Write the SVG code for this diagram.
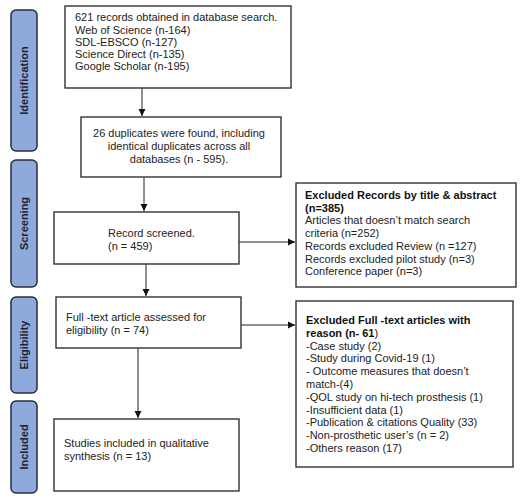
<svg xmlns="http://www.w3.org/2000/svg" width="523" height="501" viewBox="0 0 523 501">
<defs>
<marker id="ah" markerWidth="8" markerHeight="8" refX="7" refY="4" orient="auto" markerUnits="userSpaceOnUse">
<path d="M0,0.5 L7,4 L0,7.5 Z" fill="#111"/>
</marker>
<style>
.side{fill:#8eaadc;stroke:#2a2f3d;stroke-width:1.5}
.stxt{font-family:"Liberation Sans",Arial,sans-serif;font-size:11px;font-weight:bold;fill:#1e2230;text-anchor:middle}
.box{fill:#fff;stroke:#333;stroke-width:1.4}
.t{font-family:"Liberation Sans",Arial,sans-serif;font-size:11px;fill:#222}
.b{font-weight:bold;fill:#111}
.c{stroke:#222;stroke-width:1;fill:none;marker-end:url(#ah)}
</style>
</defs>
<rect width="523" height="501" fill="#fff"/>
<g id="stage-identification">
<rect class="side" x="11" y="10" width="26" height="141" rx="5"/>
<text class="stxt" transform="translate(28,80.5) rotate(-90)">Identification</text>
</g>
<g id="stage-screening">
<rect class="side" x="11" y="160" width="26" height="127" rx="5"/>
<text class="stxt" transform="translate(28,223.5) rotate(-90)">Screening</text>
</g>
<g id="stage-eligibility">
<rect class="side" x="11" y="297" width="26" height="96" rx="5"/>
<text class="stxt" transform="translate(28,345) rotate(-90)">Eligibility</text>
</g>
<g id="stage-included">
<rect class="side" x="11" y="401" width="26" height="92" rx="5"/>
<text class="stxt" transform="translate(28,447) rotate(-90)">Included</text>
</g>
<g id="connectors">
<line class="c" x1="142" y1="88" x2="142" y2="116"/>
<line class="c" x1="144" y1="177" x2="144" y2="211"/>
<line class="c" x1="146" y1="264" x2="146" y2="296"/>
<line class="c" x1="138" y1="348" x2="138" y2="418"/>
<line class="c" x1="239" y1="242" x2="295" y2="242"/>
<line class="c" x1="241" y1="325" x2="295" y2="325"/>
</g>
<g id="records">
<rect class="box" x="65" y="6" width="226" height="82"/>
<text class="t" x="75" y="21">621 records obtained in database search.</text>
<text class="t" x="75" y="34">Web of Science (n-164)</text>
<text class="t" x="75" y="46">SDL-EBSCO (n-127)</text>
<text class="t" x="75" y="58">Science Direct (n-135)</text>
<text class="t" x="75" y="70">Google Scholar (n-195)</text>
</g>
<g id="duplicates">
<rect class="box" x="81" y="117" width="200" height="60"/>
<text class="t" x="179" y="137" text-anchor="middle">26 duplicates were found, including</text>
<text class="t" x="179" y="150" text-anchor="middle">identical duplicates across all</text>
<text class="t" x="179" y="163" text-anchor="middle">databases (n - 595).</text>
</g>
<g id="screened">
<rect class="box" x="54" y="212" width="185" height="52"/>
<text class="t" x="108" y="237">Record screened.</text>
<text class="t" x="108" y="250">(n = 459)</text>
</g>
<g id="fulltext">
<rect class="box" x="56" y="297" width="185" height="51"/>
<text class="t" x="66" y="321">Full -text article assessed for</text>
<text class="t" x="66" y="334">eligibility (n = 74)</text>
</g>
<g id="included">
<rect class="box" x="54" y="419" width="185" height="72"/>
<text class="t" x="64" y="447">Studies included in qualitative</text>
<text class="t" x="64" y="460">synthesis (n = 13)</text>
</g>
<g id="excluded-records">
<rect class="box" x="296" y="183" width="220" height="104"/>
<text class="t b" x="305" y="199">Excluded Records by title &amp; abstract</text>
<text class="t b" x="305" y="211.7">(n=385)</text>
<text class="t" x="305" y="224.4">Articles that doesn’t match search</text>
<text class="t" x="305" y="237.1">criteria (n=252)</text>
<text class="t" x="305" y="249.8">Records excluded Review (n =127)</text>
<text class="t" x="305" y="262.5">Records excluded pilot study (n=3)</text>
<text class="t" x="305" y="275.2">Conference paper (n=3)</text>
</g>
<g id="excluded-fulltext">
<rect class="box" x="296" y="301" width="217" height="166"/>
<text class="t b" x="306" y="324">Excluded Full -text articles with</text>
<text class="t" x="306" y="336.8"><tspan class="b">reason (n- 61</tspan>)</text>
<text class="t" x="306" y="349.6">-Case study (2)</text>
<text class="t" x="306" y="362.4">-Study during Covid-19 (1)</text>
<text class="t" x="306" y="375.2">- Outcome measures that doesn’t</text>
<text class="t" x="306" y="388">match-(4)</text>
<text class="t" x="306" y="400.8">-QOL study on hi-tech prosthesis (1)</text>
<text class="t" x="306" y="413.6">-Insufficient data (1)</text>
<text class="t" x="306" y="426.4">-Publication &amp; citations Quality (33)</text>
<text class="t" x="306" y="439.2">-Non-prosthetic user’s (n = 2)</text>
<text class="t" x="306" y="452">-Others reason (17)</text>
</g>
</svg>
